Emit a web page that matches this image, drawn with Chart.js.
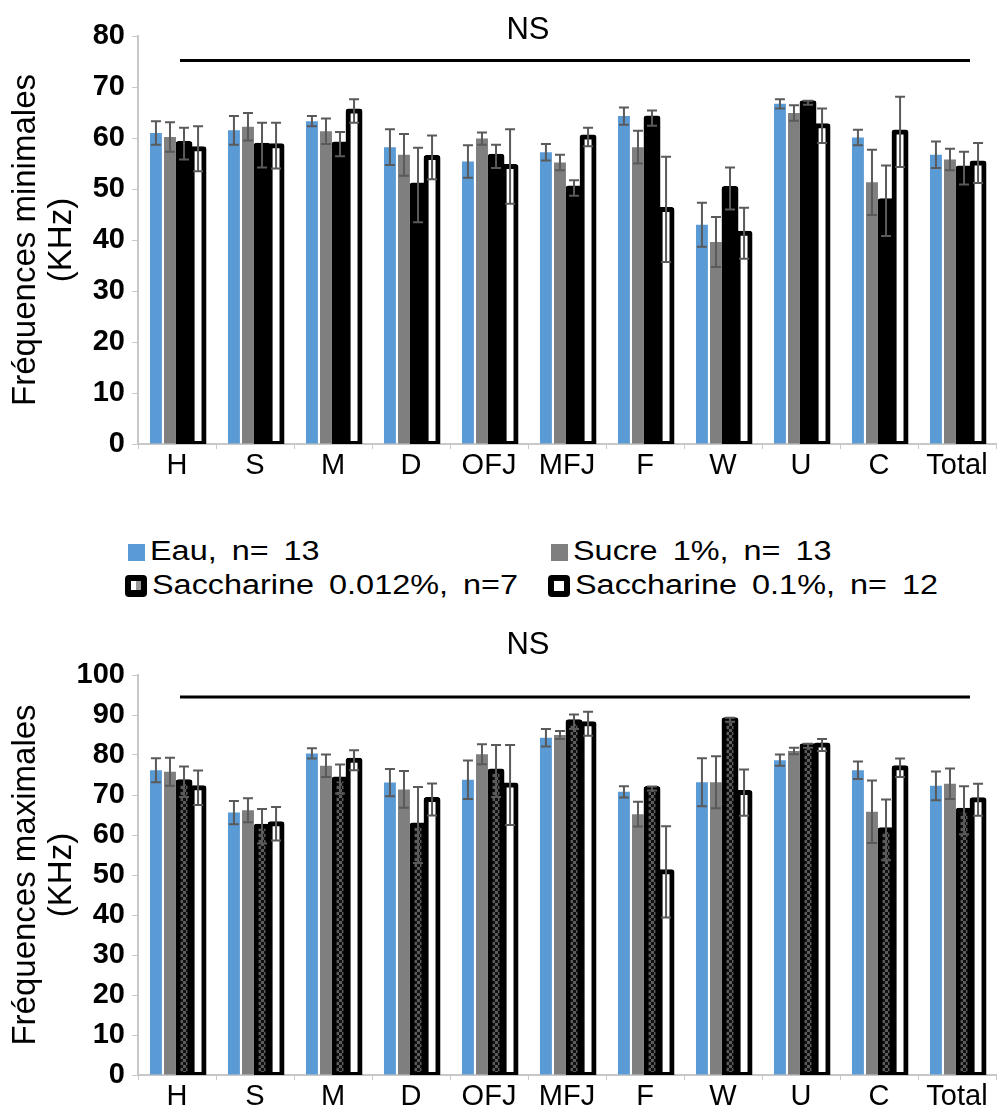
<!DOCTYPE html>
<html>
<head>
<meta charset="utf-8">
<script src="https://cdn.jsdelivr.net/npm/chart.js@4.4.1/dist/chart.umd.min.js"></script>
<style>
  body { margin: 0; background: #fff; font-family: "Liberation Sans", Arial, sans-serif; }
  #wrap { position: relative; width: 999px; height: 1115px; }
  .box { position: absolute; left: 0; width: 999px; }
  #topBox { top: 0; height: 490px; }
  #botBox { top: 630px; height: 485px; }
  .leg { position: absolute; font-size: 27px; line-height: 30px; white-space: nowrap; color: #000; word-spacing: 5px; }
  .leg span { transform: scaleX(1.2); transform-origin: left center; }
  .sym { position: absolute; box-sizing: border-box; }
</style>
</head>
<body>
<div id="wrap">
  <div class="box" id="topBox"><canvas id="minChart"></canvas></div>
  <div id="legend"></div>
  <div class="box" id="botBox"><canvas id="maxChart"></canvas></div>
</div>
<script>
const categories = ["H", "S", "M", "D", "OFJ", "MFJ", "F", "W", "U", "C", "Total"];
const seriesLabels = ["Eau, n= 13", "Sucre 1%, n= 13", "Saccharine 0.012%, n=7", "Saccharine 0.1%, n= 12"];

// minimal frequencies (KHz) and error bars
const minEau     = [61.0, 61.5, 63.3, 58.2, 55.4, 57.2, 64.3, 43.0, 66.7, 60.1, 56.7];
const minSucre   = [60.2, 62.2, 61.3, 56.7, 59.9, 55.2, 58.2, 39.6, 64.9, 51.3, 55.8];
const minSacc012 = [58.9, 58.6, 58.8, 50.8, 56.4, 50.2, 63.9, 50.1, 66.9, 47.7, 54.1];
const minSacc01  = [57.9, 58.5, 65.3, 56.2, 54.4, 60.2, 46.0, 41.3, 62.4, 61.2, 55.1];
const minErrEau     = [2.3, 2.8, 1.0, 3.5, 3.2, 1.6, 1.7, 4.3, 0.9, 1.5, 2.6];
const minErrSucre   = [2.9, 2.7, 2.5, 4.1, 1.2, 1.5, 3.2, 4.9, 1.5, 6.4, 2.1];
const minErrSacc012 = [3.1, 4.4, 2.4, 7.3, 2.3, 1.5, 1.5, 4.1, 0.4, 6.9, 3.2];
const minErrSacc01  = [4.4, 4.5, 2.3, 4.3, 7.3, 1.8, 10.3, 5.0, 3.4, 6.9, 3.9];

// maximal frequencies (KHz) and error bars
const maxEau     = [76.2, 65.6, 80.4, 73.1, 73.8, 84.3, 70.8, 73.2, 78.7, 76.2, 72.3];
const maxSucre   = [75.8, 66.2, 77.3, 71.4, 80.2, 85.0, 65.2, 73.2, 81.0, 65.8, 72.8];
const maxSacc012 = [73.3, 62.2, 74.0, 62.5, 76.0, 88.3, 71.6, 88.8, 82.3, 61.3, 66.2];
const maxSacc01  = [71.8, 62.8, 78.7, 68.9, 72.5, 87.8, 50.8, 70.6, 82.5, 76.8, 68.8];
const maxErrEau     = [3.0, 2.9, 1.3, 3.4, 4.8, 2.2, 1.4, 6.0, 1.4, 2.2, 3.6];
const maxErrSucre   = [3.5, 3.0, 2.8, 4.6, 2.5, 1.0, 3.1, 6.5, 0.8, 7.8, 3.8];
const maxErrSacc012 = [3.8, 4.3, 3.6, 9.5, 6.5, 1.8, 0.5, 0.5, 0.5, 7.6, 6.0];
const maxErrSacc01  = [4.3, 4.2, 2.5, 4.0, 10.0, 3.0, 11.4, 5.8, 1.5, 2.3, 4.0];

const BLUE = "#5b9bd5", GRAY = "#7f7f7f", ERR = "#5a5a5a", AXIS = "#c8c8c8";
const FONT = "'Liberation Sans', Arial, sans-serif";

// checkered fill used by the 0.012% bars of the lower chart
function checkerPattern() {
  const c = document.createElement("canvas");
  c.width = 6; c.height = 6;
  const g = c.getContext("2d");
  g.fillStyle = "#111"; g.fillRect(0, 0, 6, 6);
  g.fillStyle = "#5c5c5c";
  g.fillRect(0, 0, 3, 3); g.fillRect(3, 3, 3, 3);
  return g.createPattern(c, "repeat");
}

const errorBars = {
  id: "errorBars",
  afterDatasetsDraw(chart) {
    const ctx = chart.ctx, y = chart.scales.y;
    ctx.save();
    ctx.strokeStyle = ERR;
    ctx.lineWidth = 2;
    chart.data.datasets.forEach((ds, i) => {
      chart.getDatasetMeta(i).data.forEach((bar, j) => {
        const v = ds.data[j], e = ds.errors[j];
        const top = y.getPixelForValue(v + e), bot = y.getPixelForValue(v - e);
        ctx.beginPath();
        ctx.moveTo(bar.x, top); ctx.lineTo(bar.x, bot);
        ctx.moveTo(bar.x - 5, top); ctx.lineTo(bar.x + 5, top);
        ctx.moveTo(bar.x - 5, bot); ctx.lineTo(bar.x + 5, bot);
        ctx.stroke();
      });
    });
    ctx.restore();
  }
};

const nsMark = {
  id: "nsMark",
  afterDraw(chart, args, opts) {
    const ctx = chart.ctx, x = chart.scales.x, y = chart.scales.y;
    const ly = y.getPixelForValue(opts.lineValue);
    ctx.save();
    ctx.strokeStyle = "#000";
    ctx.lineWidth = 3;
    ctx.beginPath();
    ctx.moveTo(x.getPixelForValue(0) + 3, ly);
    ctx.lineTo(x.getPixelForValue(10) + 13, ly);
    ctx.stroke();
    ctx.fillStyle = "#000";
    ctx.font = "31px " + FONT;
    ctx.textAlign = "center";
    ctx.textBaseline = "middle";
    ctx.fillText("NS", x.getPixelForValue(4.5), y.getPixelForValue(opts.textValue));
    ctx.restore();
  }
};

function makeChart(id, vals, errs, sacc012Fill, cfg) {
  const datasets = [
    { label: seriesLabels[0], data: vals[0], errors: errs[0], backgroundColor: BLUE },
    { label: seriesLabels[1], data: vals[1], errors: errs[1], backgroundColor: GRAY },
    { label: seriesLabels[2], data: vals[2], errors: errs[2], backgroundColor: sacc012Fill,
      borderColor: "#000", borderWidth: 5, borderSkipped: false, borderRadius: 3, inflateAmount: 2.5 },
    { label: seriesLabels[3], data: vals[3], errors: errs[3], backgroundColor: "#fff",
      borderColor: "#000", borderWidth: 5, borderSkipped: false, borderRadius: 3, inflateAmount: 2.5 }
  ];
  return new Chart(document.getElementById(id), {
    type: "bar",
    data: { labels: categories, datasets },
    options: {
      responsive: true,
      maintainAspectRatio: false,
      animation: false,
      datasets: { bar: { categoryPercentage: 0.72, barPercentage: 0.85 } },
      layout: { padding: { top: cfg.padTop, right: 3, left: 0, bottom: 0 } },
      plugins: {
        legend: { display: false },
        tooltip: { enabled: false },
        nsMark: { lineValue: cfg.lineValue, textValue: cfg.textValue }
      },
      scales: {
        x: {
          afterFit: s => { s.height = cfg.xHeight; },
          grid: { display: true, drawOnChartArea: false, tickLength: 5, color: AXIS, offset: true },
          border: { color: AXIS, width: 2 },
          ticks: { color: "#000", font: { family: FONT, size: 29 }, padding: 0, maxRotation: 0, autoSkip: false }
        },
        y: {
          min: 0, max: cfg.max,
          afterFit: s => { s.width = 138; },
          grid: { display: true, drawOnChartArea: false, tickLength: 6, color: AXIS },
          border: { color: AXIS, width: 2 },
          ticks: { stepSize: 10, color: "#000", padding: 7, font: { family: FONT, size: 29, weight: "bold" } },
          title: {
            display: true, text: cfg.title, color: "#000",
            font: { family: FONT, size: 33, lineHeight: 1.09 },
            padding: { top: 8, bottom: 0 }
          }
        }
      }
    },
    plugins: [errorBars, nsMark]
  });
}

makeChart("minChart",
  [minEau, minSucre, minSacc012, minSacc01],
  [minErrEau, minErrSucre, minErrSacc012, minErrSacc01],
  "#000",
  { max: 80, padTop: 36, xHeight: 46, lineValue: 75.2, textValue: 81.1,
    title: ["Fréquences minimales", "(KHz)"] });

makeChart("maxChart",
  [maxEau, maxSucre, maxSacc012, maxSacc01],
  [maxErrEau, maxErrSucre, maxErrSacc012, maxErrSacc01],
  checkerPattern(),
  { max: 100, padTop: 45, xHeight: 40, lineValue: 94.5, textValue: 107.5,
    title: ["Fréquences maximales", "(KHz)"] });

// legend between the two charts, two columns
const legendItems = [
  { x: 128, y: 536, sym: "blue" },
  { x: 551, y: 536, sym: "gray" },
  { x: 125, y: 570, sym: "s012" },
  { x: 548, y: 570, sym: "s01" }
];
const legend = document.getElementById("legend");
legendItems.forEach((it, i) => {
  const el = document.createElement("div");
  el.className = "leg";
  el.style.left = it.x + "px";
  el.style.top = it.y + "px";
  let symHtml;
  if (it.sym === "blue" || it.sym === "gray") {
    symHtml = `<div class="sym" style="left:0;top:8px;width:17px;height:17px;background:${it.sym === "blue" ? BLUE : GRAY}"></div>`;
  } else if (it.sym === "s012") {
    symHtml = `<div class="sym" style="left:0;top:5px;width:22px;height:22px;background:#000;border-radius:4px">
      <div style="position:absolute;left:6px;top:6px;width:5px;height:9px;background:#fff"></div>
      <div style="position:absolute;left:11px;top:6px;width:5px;height:9px;background:#999"></div></div>`;
  } else {
    symHtml = `<div class="sym" style="left:0;top:5px;width:22px;height:22px;background:#000;border-radius:4px">
      <div style="position:absolute;left:6px;top:6px;width:10px;height:10px;background:#fff"></div></div>`;
  }
  const textLeft = it.sym === "blue" || it.sym === "gray" ? 22 : 27;
  el.innerHTML = symHtml + `<span style="position:absolute;left:${textLeft}px;top:0">${seriesLabels[i]}</span>`;
  legend.appendChild(el);
});
</script>
</body>
</html>
